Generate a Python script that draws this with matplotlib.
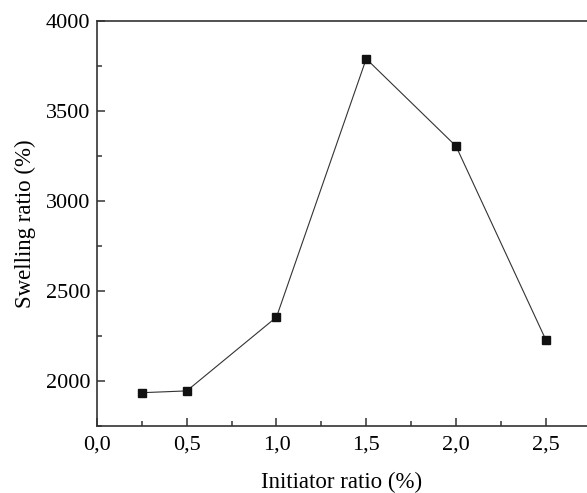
import matplotlib
matplotlib.use("Agg")
import matplotlib.pyplot as plt
from matplotlib.ticker import MultipleLocator, FuncFormatter

initiator = [0.25, 0.5, 1.0, 1.5, 2.0, 2.5]
swelling = [1935, 1945, 2355, 3790, 3305, 2230]

plt.rcParams['font.family'] = ['Liberation Serif', 'DejaVu Serif']

fig = plt.figure(figsize=(5.87, 4.93), dpi=100)
ax = fig.add_axes([97/587, 1-426/493, 1-97/587, (426-21)/493])
ax.plot(initiator, swelling, color='#333333', lw=0.8, marker='s', ms=6,
        mfc='#111111', mec='#111111')
ax.set_xlim(0, 2.73)
ax.set_ylim(1750, 4000)
ax.xaxis.set_major_locator(MultipleLocator(0.5))
ax.xaxis.set_minor_locator(MultipleLocator(0.25))
ax.yaxis.set_major_locator(MultipleLocator(500))
ax.yaxis.set_minor_locator(MultipleLocator(250))
ax.xaxis.set_major_formatter(FuncFormatter(lambda v, p: f"{v:.1f}".replace('.', ',')))
ax.tick_params(which='both', direction='in', labelsize=16, width=1.1, color='#333333')
ax.tick_params(which='major', length=6)
ax.tick_params(which='minor', length=3.5)
ax.tick_params(axis='x', pad=7)
ax.tick_params(axis='y', pad=5)
for s in ['left', 'bottom', 'top']:
    ax.spines[s].set_linewidth(1.2)
    ax.spines[s].set_color('#333333')
ax.spines['right'].set_visible(False)
ax.set_xlabel('Initiator ratio (%)', fontsize=16.5, labelpad=12)
ax.set_ylabel('Swelling ratio (%)', fontsize=16.5, labelpad=7)
fig.savefig('out.png', dpi=100)
